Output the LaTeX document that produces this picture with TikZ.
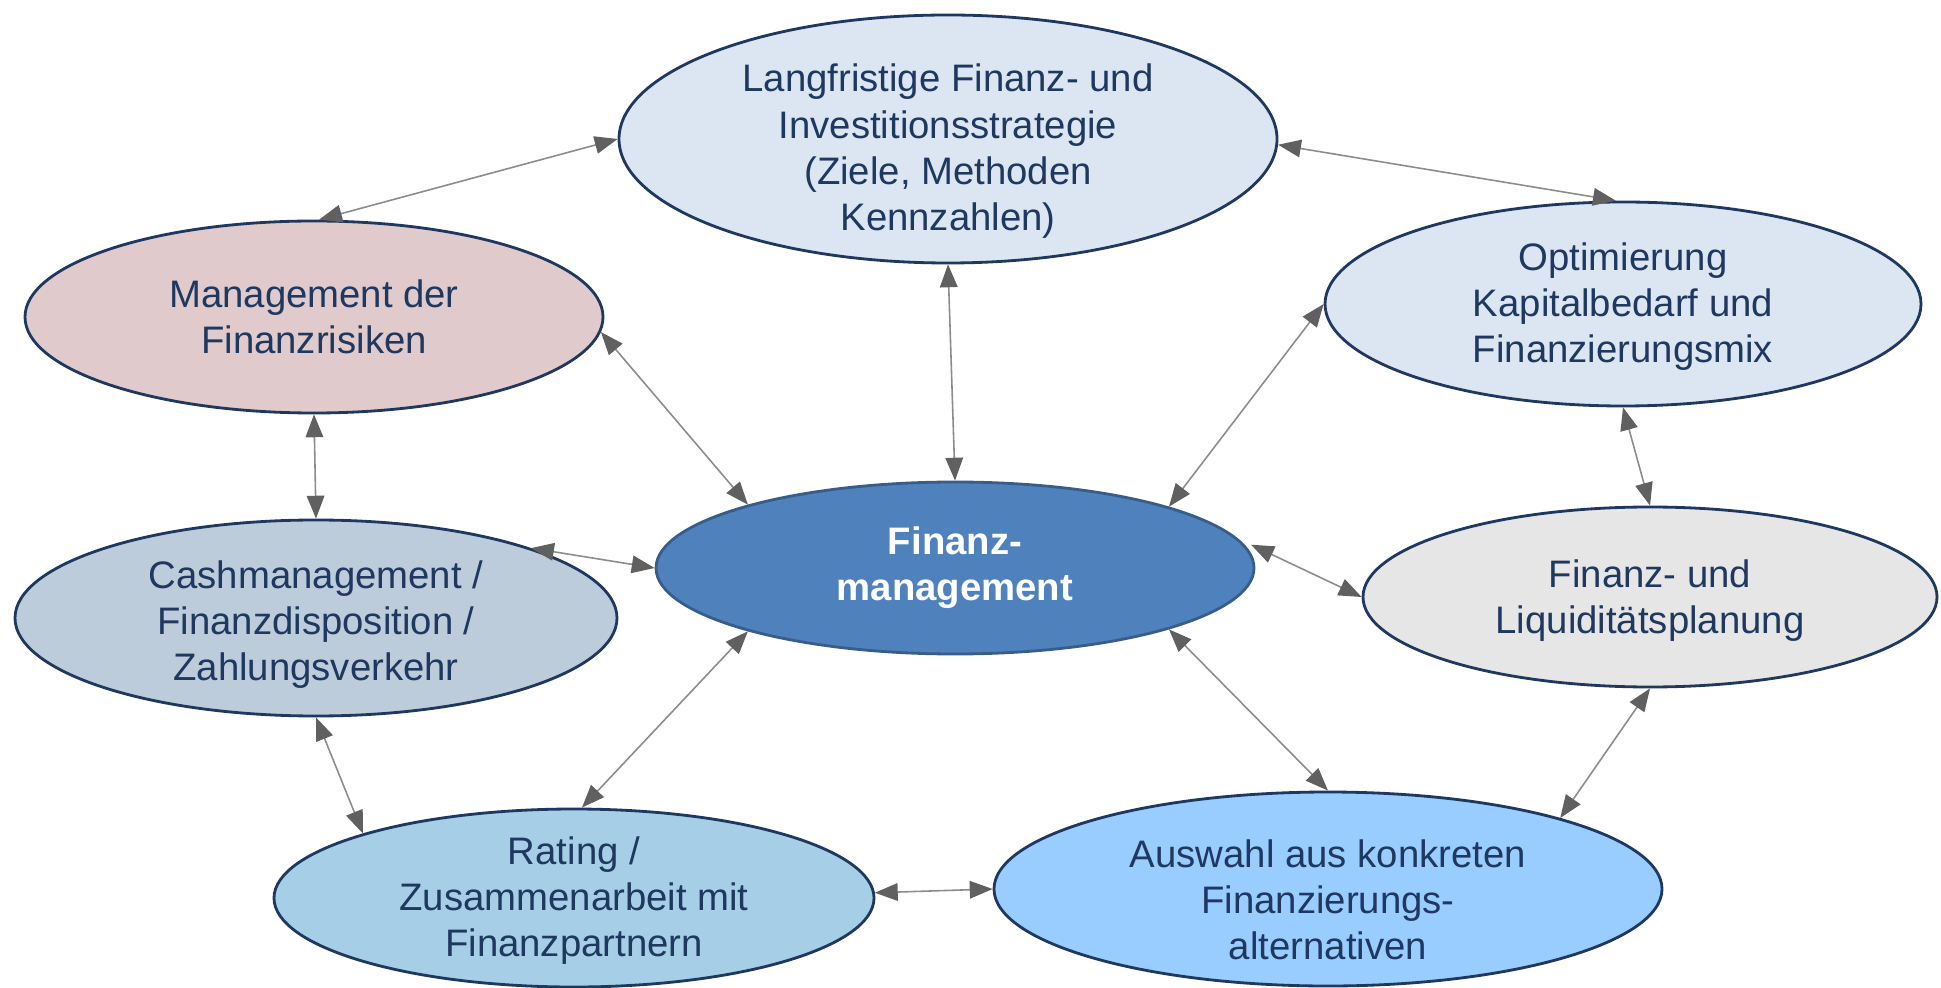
\documentclass[tikz,border=0pt]{standalone}
\usepackage{fontspec}
\setmainfont{Liberation Sans}
\usepackage{tikz}
\usetikzlibrary{positioning, shapes.geometric, arrows.meta}

\definecolor{inkblue}{RGB}{31,56,96}
\definecolor{hubfill}{RGB}{79,129,189}
\definecolor{hubedge}{RGB}{56,93,138}
\definecolor{stratfill}{RGB}{220,230,242}
\definecolor{riskfill}{RGB}{224,202,203}
\definecolor{cashfill}{RGB}{189,204,219}
\definecolor{planfill}{RGB}{230,230,230}
\definecolor{ratingfill}{RGB}{166,206,230}
\definecolor{choicefill}{RGB}{153,204,255}
\definecolor{linegray}{RGB}{140,140,140}
\definecolor{tipgray}{RGB}{96,96,96}

\newcommand{\padtop}[1]{\rule{0pt}{#1}}

\tikzset{
	topic/.style={ellipse, draw=inkblue, line width=0.8pt, text=inkblue, align=center, inner sep=0pt, inner ysep=-8pt, font=\fontsize{10.9}{13.1}\selectfont},
	hub/.style={topic, draw=hubedge, fill=hubfill, text=white, font=\bfseries\fontsize{10.9}{13.1}\selectfont},
	link/.style={draw=linegray, line width=0.45pt, {Triangle[length=6.5pt,width=5pt,color=tipgray]}-{Triangle[length=6.5pt,width=5pt,color=tipgray]}}
}

\begin{document}
\begin{tikzpicture}[on grid]
	\useasboundingbox (0,0) rectangle (19.41,9.87);
	\node[hub, minimum width=5.98cm, minimum height=1.72cm] (fm) at (9.55,4.19) {Finanz-\\management};
	\node[topic, fill=stratfill, minimum width=6.58cm, minimum height=2.48cm, above left=4.29cm and 0.07cm of fm] (strat) {\padtop{14.8pt}Langfristige Finanz- und\\Investitionsstrategie\\(Ziele, Methoden\\Kennzahlen)};
	\node[topic, fill=riskfill, minimum width=5.78cm, minimum height=1.92cm, above left=2.51cm and 6.41cm of fm] (risk) {Management der\\Finanzrisiken};
	\node[topic, fill=stratfill, minimum width=5.96cm, minimum height=2.04cm, above right=2.64cm and 6.68cm of fm] (opt) {\padtop{9.6pt}Optimierung\\Kapitalbedarf und\\Finanzierungsmix};
	\node[topic, fill=cashfill, minimum width=6.02cm, minimum height=1.96cm, below left=0.5cm and 6.39cm of fm] (cash) {\padtop{11.4pt}Cashmanagement /\\Finanzdisposition /\\Zahlungsverkehr};
	\node[topic, fill=planfill, minimum width=5.74cm, minimum height=1.8cm, below right=0.29cm and 6.95cm of fm] (plan) {\padtop{10pt}Finanz- und\\Liquiditätsplanung};
	\node[topic, fill=ratingfill, minimum width=6cm, minimum height=1.78cm, below left=3.3cm and 3.81cm of fm] (rating) {\padtop{9.6pt}Rating /\\Zusammenarbeit mit\\Finanzpartnern};
	\node[topic, fill=choicefill, minimum width=6.68cm, minimum height=1.94cm, below right=3.21cm and 3.73cm of fm] (choice) {\padtop{14.2pt}Auswahl aus konkreten\\Finanzierungs-\\alternativen};

	\draw[link] (risk.87) -- (strat.west);
	\draw[link] (strat.359) -- (opt.94);
	\draw[link] (strat.south) -- (fm.north);
	\draw[link] (risk.357) -- (fm.163);
	\draw[link] (opt.west) -- (fm.16);
	\draw[link] (risk.south) -- (cash.north);
	\draw[link] (cash.18) -- (fm.west);
	\draw[link, shorten <=0.15cm] (fm.6) -- (plan.west);
	\draw[link] (opt.south) -- (plan.north);
	\draw[link] (cash.south) -- (rating.163);
	\draw[link] (fm.197) -- (rating.85);
	\draw[link] (fm.344) -- (choice.north);
	\draw[link] (plan.south) -- (choice.17);
	\draw[link] (rating.1) -- (choice.west);
\end{tikzpicture}
\end{document}
